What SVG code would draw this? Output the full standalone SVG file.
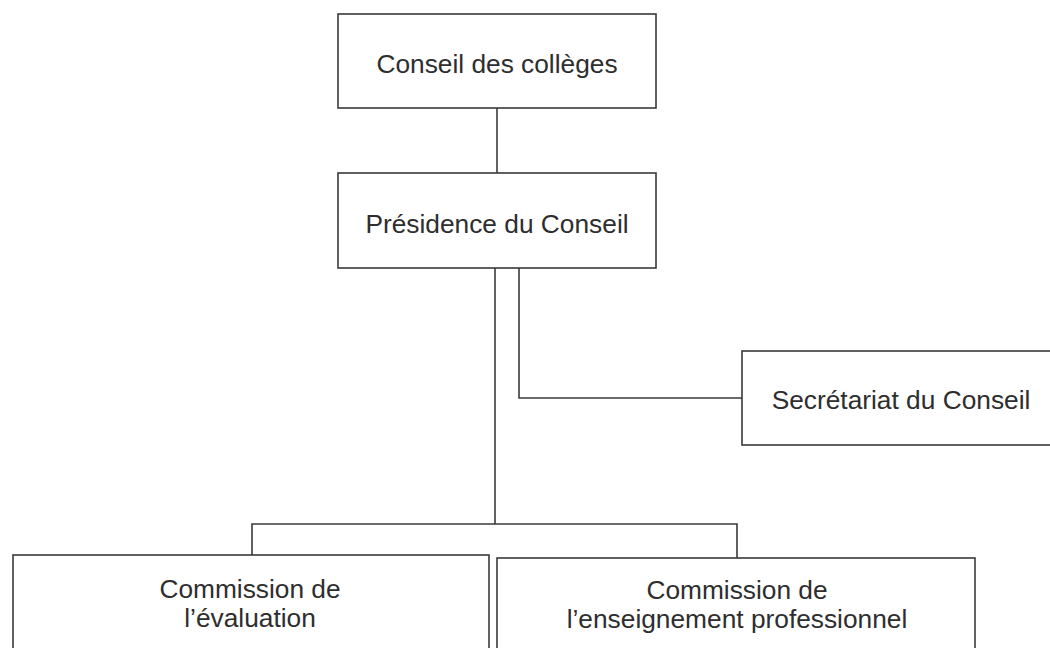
<svg xmlns="http://www.w3.org/2000/svg" width="1050" height="648" viewBox="0 0 1050 648">
<style>
.box{fill:#fff;stroke:#3a3a3a;stroke-width:1.6}
.lbl{font-family:"Liberation Sans",Arial,sans-serif;font-size:26.3px;fill:#2e2e2e;text-anchor:middle}
.con{fill:none;stroke:#3a3a3a;stroke-width:1.6}
</style>
<rect width="1050" height="648" fill="#fff"/>
<g id="connectors">
<line class="con" x1="497" y1="108" x2="497" y2="173"/>
<line class="con" x1="495" y1="268" x2="495" y2="524"/>
<polyline class="con" points="519,268 519,398 742,398"/>
<polyline class="con" points="252,555 252,524 737,524 737,558"/>
</g>
<g id="conseil">
<rect class="box" x="338" y="14" width="318" height="94"/>
<text class="lbl" x="497" y="73">Conseil des collèges</text>
</g>
<g id="presidence">
<rect class="box" x="338" y="173" width="318" height="95"/>
<text class="lbl" x="497" y="233">Présidence du Conseil</text>
</g>
<g id="secretariat">
<rect class="box" x="742" y="351" width="320" height="94"/>
<text class="lbl" x="901" y="409">Secrétariat du Conseil</text>
</g>
<g id="evaluation">
<rect class="box" x="13" y="555" width="476" height="110"/>
<text class="lbl" x="250" y="598">Commission de</text>
<text class="lbl" x="250" y="627">l’évaluation</text>
</g>
<g id="enseignement">
<rect class="box" x="497" y="558" width="478" height="110"/>
<text class="lbl" x="737" y="599">Commission de</text>
<text class="lbl" x="737" y="628">l’enseignement professionnel</text>
</g>
</svg>
